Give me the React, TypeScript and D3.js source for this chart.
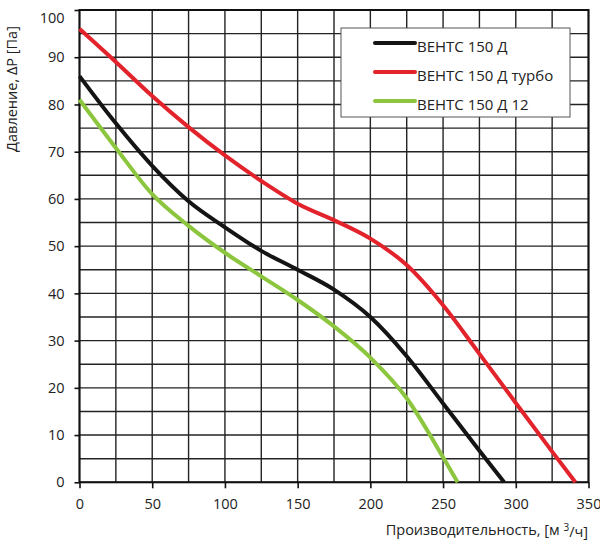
import React, { useEffect, useRef } from "react";
import * as d3 from "d3";

// flow, m3/h -> pressure, Pa
const flowBase = [0, 25, 50, 75, 100, 125, 150, 175, 200, 225, 250, 275, 292];
const pressBase = [86, 76, 67, 59.5, 54, 49, 45, 40.8, 35, 26.7, 16.7, 6.7, 0];

const flowTurbo = [0, 25, 50, 75, 100, 125, 150, 175, 200, 225, 250, 275, 300, 325, 341];
const pressTurbo = [96, 89, 81.8, 75.2, 69.2, 63.8, 59, 55.5, 51.6, 46, 37.5, 27.2, 16.8, 6.5, 0];

const flow12 = [0, 25, 50, 75, 100, 125, 150, 175, 200, 225, 250, 260];
const press12 = [81, 70.8, 61, 54.3, 48.6, 43.6, 38.6, 33, 26.4, 17.8, 5.3, 0];

const seriesNames = ["ВЕНТС 150 Д", "ВЕНТС 150 Д турбо", "ВЕНТС 150 Д 12"];
const seriesColors = ["#141414", "#e3232b", "#8cc63e"];

const xTicks = [0, 50, 100, 150, 200, 250, 300, 350];
const yTicks = [0, 10, 20, 30, 40, 50, 60, 70, 80, 90, 100];

const FONT = "'Open Sans', sans-serif";

const PressureChart = () => {
    const svgRef = useRef(null);

    useEffect(() => {
        const width = 600;
        const height = 549;
        const margin = { top: 10, right: 11.5, bottom: 66.7, left: 79.5 };
        const innerW = width - margin.left - margin.right;
        const innerH = height - margin.top - margin.bottom;

        const svg = d3.select(svgRef.current);
        svg.selectAll("*").remove();

        const x = d3.scaleLinear().domain([0, 350]).range([0, innerW]);
        const y = d3.scaleLinear().domain([0, 100]).range([innerH, 0]);

        const g = svg
            .append("g")
            .attr("transform", `translate(${margin.left},${margin.top})`);

        // grid: every 25 m3/h and every 5 Pa
        g.append("g")
            .selectAll("line")
            .data(d3.range(0, 351, 25))
            .enter()
            .append("line")
            .attr("x1", (d) => x(d))
            .attr("x2", (d) => x(d))
            .attr("y1", 0)
            .attr("y2", innerH)
            .attr("stroke", "#232323")
            .attr("stroke-width", 1.4);

        g.append("g")
            .selectAll("line")
            .data(d3.range(0, 101, 5))
            .enter()
            .append("line")
            .attr("x1", 0)
            .attr("x2", innerW)
            .attr("y1", (d) => y(d))
            .attr("y2", (d) => y(d))
            .attr("stroke", "#232323")
            .attr("stroke-width", 1.4);

        // frame
        g.append("rect")
            .attr("width", innerW)
            .attr("height", innerH)
            .attr("fill", "none")
            .attr("stroke", "#111")
            .attr("stroke-width", 2);

        // x axis
        g.append("g")
            .attr("transform", `translate(0,${innerH})`)
            .call(d3.axisBottom(x).tickValues(xTicks).tickSize(6).tickPadding(10))
            .call((a) => a.select(".domain").remove())
            .call((a) => a.selectAll(".tick line").attr("stroke", "#111").attr("stroke-width", 1.6))
            .call((a) =>
                a
                    .selectAll("text")
                    .attr("fill", "#222")
                    .style("font-family", FONT)
                    .style("font-size", "14.5px")
            );

        // y axis
        g.append("g")
            .call(d3.axisLeft(y).tickValues(yTicks).tickSize(5).tickPadding(10))
            .call((a) => a.select(".domain").remove())
            .call((a) => a.selectAll(".tick line").attr("stroke", "#111").attr("stroke-width", 1.6))
            .call((a) =>
                a
                    .selectAll("text")
                    .attr("fill", "#222")
                    .attr("dy", (d) => (d === 100 ? "0.85em" : "0.32em"))
                    .style("font-family", FONT)
                    .style("font-size", "14.5px")
            );

        // curves
        const line = d3
            .line<[number, number]>()
            .x((d) => x(d[0]))
            .y((d) => y(d[1]))
            .curve(d3.curveMonotoneX);

        const series = [
            d3.zip(flowBase, pressBase),
            d3.zip(flowTurbo, pressTurbo),
            d3.zip(flow12, press12),
        ];

        series.forEach((s, i) => {
            g.append("path")
                .datum(s as [number, number][])
                .attr("fill", "none")
                .attr("stroke", seriesColors[i])
                .attr("stroke-width", 4)
                .attr("stroke-linejoin", "round")
                .attr("d", line);
        });

        // legend
        const lg = svg.append("g").attr("transform", "translate(341,28)");
        lg.append("rect")
            .attr("width", 229)
            .attr("height", 89)
            .attr("fill", "#fff")
            .attr("stroke", "#555")
            .attr("stroke-width", 1);

        seriesNames.forEach((name, i) => {
            const row = lg.append("g").attr("transform", `translate(0,${15 + i * 29})`);
            row.append("line")
                .attr("x1", 34)
                .attr("x2", 74)
                .attr("y1", 0)
                .attr("y2", 0)
                .attr("stroke", seriesColors[i])
                .attr("stroke-width", 4)
                .attr("stroke-linecap", "round");
            row.append("text")
                .attr("x", 76)
                .attr("y", 4)
                .attr("dy", "0.32em")
                .attr("fill", "#222")
                .style("font-family", FONT)
                .style("font-size", "15px")
                .text(name);
        });

        // axis titles
        const xt = svg
            .append("text")
            .attr("x", 588)
            .attr("y", 535)
            .attr("text-anchor", "end")
            .attr("fill", "#222")
            .style("font-family", FONT)
            .style("font-size", "14.5px");
        xt.append("tspan").text("Производительность, [м ");
        xt.append("tspan").attr("dy", "-0.45em").style("font-size", "10px").text("3");
        xt.append("tspan").attr("dy", "0.45em").text("/ч]");

        svg.append("text")
            .attr("transform", "translate(17,89) rotate(-90)")
            .attr("text-anchor", "middle")
            .attr("fill", "#222")
            .style("font-family", FONT)
            .style("font-size", "14.5px")
            .text("Давление, ΔP [Па]");
    }, []);

    return (
        <svg
            ref={svgRef}
            width={600}
            height={549}
            style={{ position: "absolute", left: 0, top: 0, background: "#fff" }}
        ></svg>
    );
};

export default function App() {
    return <PressureChart />;
}
